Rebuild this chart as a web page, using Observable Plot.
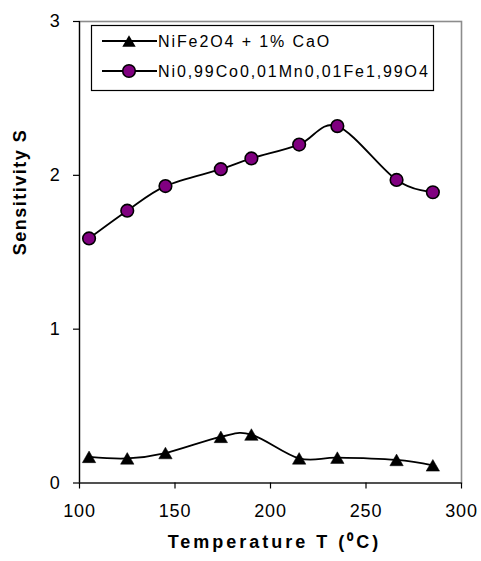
<!DOCTYPE html>
<html>
<head>
<meta charset="utf-8">
<script src="https://cdn.jsdelivr.net/npm/d3@7"></script>
<script src="https://cdn.jsdelivr.net/npm/@observablehq/plot@0.6"></script>
<style>
  html, body { margin: 0; padding: 0; background: #fff; }
</style>
</head>
<body>
<div id="chart"></div>
<script>
// ---- data ----
const temperatures = [105, 125, 145, 174, 190, 215, 235, 266, 285];
const seriesNames = ["NiFe2O4 + 1% CaO", "Ni0,99Co0,01Mn0,01Fe1,99O4"];
const caoValues = [0.17, 0.16, 0.195, 0.30, 0.315, 0.16, 0.165, 0.15, 0.115];
const coMnValues = [1.59, 1.77, 1.93, 2.04, 2.11, 2.20, 2.32, 1.97, 1.89];
const xTicks = [100, 150, 200, 250, 300];
const yTicks = [0, 1, 2, 3];
const xTitle = "Temperature T (\u2070C)";
const yTitle = "Sensitivity S";

const caoData = temperatures.map((t, i) => ({t, s: caoValues[i]}));
const coMnData = temperatures.map((t, i) => ({t, s: coMnValues[i]}));

// triangle centred on its bounding box (like Excel markers)
const tri = {
  draw(ctx, size) {
    const r = Math.sqrt(size / Math.PI);
    const h = 0.866 * r;
    ctx.moveTo(0, -h);
    ctx.lineTo(r, h);
    ctx.lineTo(-r, h);
    ctx.closePath();
  }
};

const font = "'Liberation Sans', Arial, sans-serif";

const svg = Plot.plot({
  width: 481,
  height: 561,
  marginLeft: 79,
  marginRight: 20,
  marginTop: 21,
  marginBottom: 78.5,
  style: {fontFamily: font, background: "white", color: "black"},
  x: {domain: [100, 300]},
  y: {domain: [0, 3]},
  marks: [
    Plot.frame({stroke: "#8c8c8c", strokeWidth: 1.6}),
    Plot.ruleX([100], {stroke: "black", strokeWidth: 1.2}),
    Plot.ruleY([0], {stroke: "black", strokeWidth: 1.2}),
    Plot.axisX({ticks: xTicks, tickFormat: d3.format("d"), tickSize: 6, tickPadding: 15, fontSize: 18, label: null, stroke: "black", strokeWidth: 1.2}),
    Plot.axisY({ticks: yTicks, tickFormat: d3.format("d"), tickSize: 6, tickPadding: 13, fontSize: 18, label: null, stroke: "black", strokeWidth: 1.2}),
    Plot.line(caoData, {x: "t", y: "s", curve: "cardinal", stroke: "black", strokeWidth: 1.8}),
    Plot.dot(caoData, {x: "t", y: "s", symbol: tri, r: 6.7, fill: "black", stroke: "black", strokeWidth: 0.5}),
    Plot.line(coMnData, {x: "t", y: "s", curve: "cardinal", stroke: "black", strokeWidth: 1.8}),
    Plot.dot(coMnData, {x: "t", y: "s", r: 6.3, fill: "#800080", stroke: "black", strokeWidth: 1.6}),
    Plot.text([xTitle], {frameAnchor: "bottom", dy: 64.5, dx: 4, fontWeight: "bold", fontSize: 18}),
    Plot.text([yTitle], {frameAnchor: "left", rotate: -90, dx: -59, dy: 3, fontWeight: "bold", fontSize: 18})
  ]
});

const s = d3.select(svg);
s.selectAll('g[aria-label="x-axis tick label"] text, g[aria-label="y-axis tick label"] text')
  .style("letter-spacing", "0.8px");
s.selectAll('g[aria-label="text"] text').each(function() {
  const t = d3.select(this);
  if (t.text() === xTitle) t.style("letter-spacing", "3px");
  if (t.text() === yTitle) t.style("letter-spacing", "1.5px");
});

// legend box (inside the plot area, top)
const lg = s.append("g").attr("font-family", font).attr("text-anchor", "start");
lg.append("rect").attr("x", 91.5).attr("y", 25.5).attr("width", 342).attr("height", 65)
  .attr("fill", "white").attr("stroke", "black").attr("stroke-width", 1.2);
const rows = [
  {name: seriesNames[0], y: 41, kind: "tri"},
  {name: seriesNames[1], y: 71, kind: "circle"}
];
rows.forEach(r => {
  lg.append("line").attr("x1", 102).attr("x2", 157).attr("y1", r.y).attr("y2", r.y)
    .attr("stroke", "black").attr("stroke-width", 1.8);
  if (r.kind === "tri") {
    lg.append("path").attr("d", d3.symbol(tri, Math.PI * 6.7 * 6.7)())
      .attr("transform", `translate(129,${r.y})`).attr("fill", "black");
  } else {
    lg.append("circle").attr("cx", 129).attr("cy", r.y).attr("r", 6.3)
      .attr("fill", "#800080").attr("stroke", "black").attr("stroke-width", 1.6);
  }
  lg.append("text").attr("x", 158).attr("y", r.y).attr("dy", "0.36em")
    .attr("text-anchor", "start")
    .attr("font-size", 16).style("letter-spacing", "1.9px").text(r.name);
});

document.getElementById("chart").appendChild(svg);
</script>
</body>
</html>
